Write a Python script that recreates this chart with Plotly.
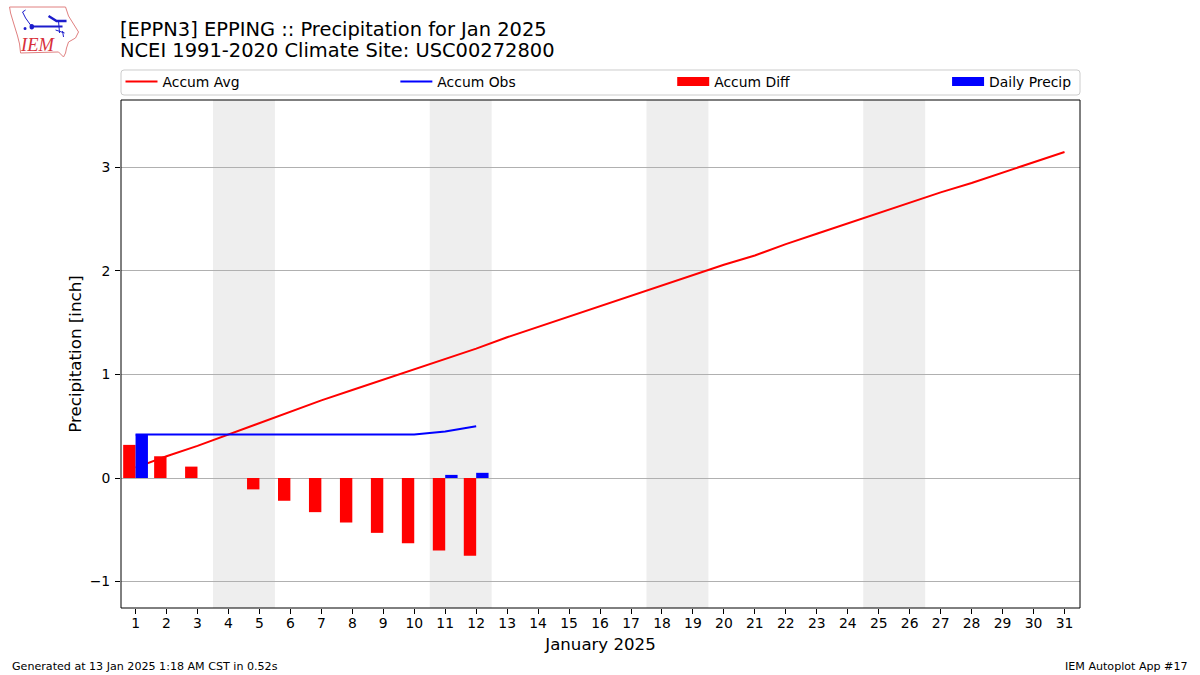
import plotly.graph_objects as go

days = list(range(1, 32))
accum_avg = [0.10,0.21,0.31,0.42,0.53,0.64,0.75,0.85,0.95,1.05,1.15,1.25,1.36,1.46,1.56,1.66,1.76,1.86,1.96,2.06,2.15,2.26,2.36,2.46,2.56,2.66,2.76,2.85,2.95,3.05,3.15]
obs_days = list(range(1, 13))
accum_obs = [0.42,0.42,0.42,0.42,0.42,0.42,0.42,0.42,0.42,0.42,0.45,0.50]
accum_diff = [0.32,0.21,0.11,0.0,-0.11,-0.22,-0.33,-0.43,-0.53,-0.63,-0.70,-0.75]
daily_precip = [0.42,0,0,0,0,0,0,0,0,0,0.03,0.05]
weekends = [(3.5,5.5),(10.5,12.5),(17.5,19.5),(24.5,26.5)]

W, H = 1200, 675
L, R, T, B = 120.5, 1080, 100, 608
F = "DejaVu Sans"
def px(x): return (x - L) / (R - L)
def py(y): return (B - y) / (B - T)
def path(pts, close=False):
    s = "M" + " L".join(f"{px(x):.5f},{py(y):.5f}" for x, y in pts)
    return s + (" Z" if close else "")

fig = go.Figure()
fig.add_scatter(x=days, y=accum_avg, mode="lines", name="Accum Avg", line=dict(color="#ff0000", width=2), zorder=0, legend="legend")
fig.add_scatter(x=obs_days, y=accum_obs, mode="lines", name="Accum Obs", line=dict(color="#0000ff", width=2), zorder=3, legend="legend2")
fig.add_bar(x=obs_days, y=accum_diff, name="Accum Diff", marker=dict(color="#ff0000", line_width=0), width=0.4, offset=-0.4, zorder=1, showlegend=False)
fig.add_bar(x=obs_days, y=daily_precip, name="Daily Precip", marker=dict(color="#0000ff", line_width=0), width=0.4, offset=0, zorder=2, showlegend=False)
# legend swatches: wide bars as in the reference
fig.add_scatter(x=[None], y=[None], mode="lines", name="Accum Diff", line=dict(color="#ff0000", width=9), legend="legend3")
fig.add_scatter(x=[None], y=[None], mode="lines", name="Daily Precip", line=dict(color="#0000ff", width=9), legend="legend4")

shapes = [dict(type="rect", xref="x", yref="paper", x0=a, x1=b, y0=0, y1=1, fillcolor="#eeeeee", line_width=0, layer="below") for a, b in weekends]
# plot frame
shapes.append(dict(type="rect", xref="paper", yref="paper", x0=0, x1=1, y0=0, y1=1, line=dict(color="black", width=1), fillcolor="rgba(0,0,0,0)", layer="above"))
# legend frame with rounded corners
x0, x1, y0, y1, r = 120.5, 1080, 70, 95, 3
legend_box = (f"M{px(x0+r):.5f},{py(y0):.5f} L{px(x1-r):.5f},{py(y0):.5f} Q{px(x1):.5f},{py(y0):.5f} {px(x1):.5f},{py(y0+r):.5f} "
              f"L{px(x1):.5f},{py(y1-r):.5f} Q{px(x1):.5f},{py(y1):.5f} {px(x1-r):.5f},{py(y1):.5f} "
              f"L{px(x0+r):.5f},{py(y1):.5f} Q{px(x0):.5f},{py(y1):.5f} {px(x0):.5f},{py(y1-r):.5f} "
              f"L{px(x0):.5f},{py(y0+r):.5f} Q{px(x0):.5f},{py(y0):.5f} {px(x0+r):.5f},{py(y0):.5f} Z")
shapes.append(dict(type="path", xref="paper", yref="paper", path=legend_box, line=dict(color="#cccccc", width=1), fillcolor="white", layer="below"))

iowa = [(9,7),(65,7),(68,16),(73,24),(78,32),(75,38),(68,42),(66,48),(65,53),(63,57),(58,52),(20,53),(19,44),(17,36),(13,23),(10,13)]
shapes.append(dict(type="path", xref="paper", yref="paper", path=path(iowa, True), line=dict(color="#e08080", width=1), fillcolor="rgba(0,0,0,0)"))
blue = "#1c1ccc"
for seg, w in [([(31,26.5),(62,26.5)],2), ([(22,12),(25,18),(30,25)],1), ([(22,12),(25,10)],1), ([(48,16),(56,21),(66,21)],2.5), ([(58,21),(59,33)],1), ([(55,30),(64,33)],1), ([(62,31),(63,37)],1)]:
    shapes.append(dict(type="path", xref="paper", yref="paper", path=path(seg), line=dict(color=blue, width=w)))
shapes.append(dict(type="circle", xref="paper", yref="paper", x0=px(29), x1=px(33.5), y0=py(29.5), y1=py(24), fillcolor=blue, line_width=0))
shapes.append(dict(type="circle", xref="paper", yref="paper", x0=px(23), x1=px(26), y0=py(30), y1=py(27), fillcolor=blue, line_width=0))

def legend_at(x):
    return dict(orientation="h", x=px(x), xanchor="left", y=py(82), yanchor="middle", bgcolor="rgba(0,0,0,0)", borderwidth=0,
                font=dict(size=13.9, family=F), traceorder="normal", itemwidth=32)

fig.update_layout(
    width=W, height=H, margin=dict(l=L, r=W-R, t=T, b=H-B), autosize=False,
    paper_bgcolor="white", plot_bgcolor="white", font=dict(family=F, size=14, color="black"),
    barmode="overlay", showlegend=True, shapes=shapes,
    title=dict(text="[EPPN3] EPPING :: Precipitation for Jan 2025", x=120/W, xanchor="left", y=1-29/H, yanchor="middle", font=dict(size=19.45, family=F)),
    legend=legend_at(120), legend2=legend_at(395), legend3=legend_at(672), legend4=legend_at(947),
    xaxis=dict(range=[0.53, 31.5], tickmode="array", tickvals=days, ticktext=[str(d) for d in days], showgrid=False, zeroline=False,
               ticks="outside", ticklen=5, tickwidth=1, tickcolor="black", ticklabelstandoff=-3,
               tickfont=dict(size=13.9), title=dict(text="January 2025", font=dict(size=16.6), standoff=8)),
    yaxis=dict(range=[-1.256, 3.652], tickmode="array", tickvals=[-1,0,1,2,3], ticktext=["\u22121","0","1","2","3"], showgrid=True, gridcolor="#b0b0b0", gridwidth=1, zeroline=False,
               ticks="outside", ticklen=5, tickwidth=1, tickcolor="black", ticklabelstandoff=2,
               tickfont=dict(size=13.9), title=dict(text="Precipitation [inch]", font=dict(size=16.7), standoff=3)),
    annotations=[
        dict(text="NCEI 1991-2020 Climate Site: USC00272800", xref="paper", yref="paper", x=px(120), y=py(50.5), xanchor="left", yanchor="middle", showarrow=False, xshift=-3, font=dict(size=19.45, family=F)),
        dict(text="Generated at 13 Jan 2025 1:18 AM CST in 0.52s", xref="paper", yref="paper", x=px(9), y=py(666), xanchor="left", yanchor="middle", showarrow=False, font=dict(size=11.1, family=F)),
        dict(text="IEM Autoplot App #17", xref="paper", yref="paper", x=px(1190), y=py(666), xanchor="right", yanchor="middle", showarrow=False, font=dict(size=11.1, family=F)),
        dict(text="<i>IEM</i>", xref="paper", yref="paper", x=px(37), y=py(45), xanchor="center", yanchor="middle", showarrow=False, font=dict(size=18.5, family="Liberation Serif", color="#d8303a")),
    ],
)
fig.write_html("out.html", config={"displayModeBar": False}, post_script="document.body.style.margin='0';")
